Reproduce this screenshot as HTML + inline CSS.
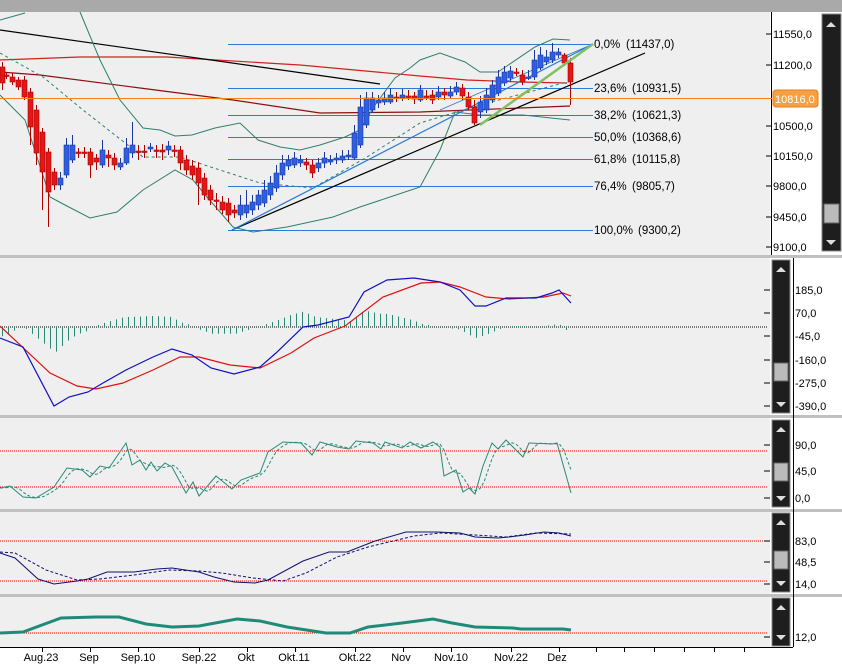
<!DOCTYPE html>
<html><head><meta charset="utf-8">
<style>
html,body{margin:0;padding:0;background:#fff;}
svg{display:block;font-family:"Liberation Sans",Arial,sans-serif;}
</style></head>
<body>
<svg id="s" width="842" height="664" viewBox="0 0 842 664" xmlns="http://www.w3.org/2000/svg">
<rect width="842" height="664" fill="#fff"/>
<rect x="0" y="0" width="842" height="12" fill="#a9a9a9"/>
<rect x="0" y="12" width="770" height="243" fill="#efefef"/>
<rect x="0" y="255" width="842" height="3" fill="#c0c0c0"/>
<rect x="0" y="258" width="770" height="157" fill="#efefef"/>
<rect x="0" y="415" width="842" height="3" fill="#c0c0c0"/>
<rect x="0" y="418" width="770" height="91" fill="#efefef"/>
<rect x="0" y="509" width="842" height="3" fill="#c0c0c0"/>
<rect x="0" y="512" width="770" height="82" fill="#efefef"/>
<rect x="0" y="594" width="842" height="3" fill="#c0c0c0"/>
<rect x="0" y="597" width="770" height="50" fill="#efefef"/>
<g id="g"></g>
<line x1="771.5" y1="12" x2="771.5" y2="255" stroke="#000"/>
<g font-size="11" fill="#000">
<text x="773" y="38">11550,0</text><text x="773" y="69">11200,0</text>
<text x="773" y="130">10500,0</text><text x="773" y="160">10150,0</text>
<text x="773" y="190">9800,0</text><text x="773" y="221">9450,0</text><text x="773" y="251">9100,0</text>
</g>
<g stroke="#000"><line x1="766" y1="34" x2="771" y2="34"/><line x1="766" y1="65" x2="771" y2="65"/><line x1="766" y1="126" x2="771" y2="126"/><line x1="766" y1="156" x2="771" y2="156"/><line x1="766" y1="186" x2="771" y2="186"/><line x1="766" y1="217" x2="771" y2="217"/><line x1="766" y1="247" x2="771" y2="247"/></g>
<line x1="0" y1="98.5" x2="772" y2="98.5" stroke="#f08020"/>
<rect x="773" y="90" width="45" height="17" rx="3" fill="#f8a040" stroke="#e08020"/>
<text x="775" y="103" font-size="11" fill="#fff">10816,0</text>
<g font-size="11.5" fill="#000">
<text x="594" y="48">0,0%<tspan x="626">(11437,0)</tspan></text>
<text x="594" y="92">23,6%<tspan x="632">(10931,5)</tspan></text>
<text x="594" y="119">38,2%<tspan x="632">(10621,3)</tspan></text>
<text x="594" y="141">50,0%<tspan x="632">(10368,6)</tspan></text>
<text x="594" y="163">61,8%<tspan x="632">(10115,8)</tspan></text>
<text x="594" y="190">76,4%<tspan x="632">(9805,7)</tspan></text>
<text x="594" y="234">100,0%<tspan x="638">(9300,2)</tspan></text>
</g>
<rect x="822" y="14" width="19" height="237" fill="#1e1e1e" stroke="#888"/>
<polygon points="826,27 836,27 831,22" fill="#ddd"/><polygon points="826,240 836,240 831,245" fill="#ddd"/>
<rect x="824" y="204" width="15" height="19" fill="#bbb" stroke="#666"/>
<g id="sb"></g>
<line x1="793.5" y1="258" x2="793.5" y2="647" stroke="#000"/>
<g font-size="11" fill="#000">
<text x="795" y="294">185,0</text><text x="795" y="317">70,0</text><text x="795" y="340">-45,0</text>
<text x="795" y="364">-160,0</text><text x="795" y="387">-275,0</text><text x="795" y="410">-390,0</text>
<text x="795" y="449">90,0</text><text x="795" y="475">45,0</text><text x="795" y="502">0,0</text>
<text x="795" y="545">83,0</text><text x="795" y="566">48,5</text><text x="795" y="588">14,0</text>
<text x="795" y="641">12,0</text>
</g>
<g stroke="#000">
<line x1="764" y1="290" x2="770" y2="290"/><line x1="764" y1="313" x2="770" y2="313"/><line x1="764" y1="336" x2="770" y2="336"/><line x1="764" y1="360" x2="770" y2="360"/><line x1="764" y1="383" x2="770" y2="383"/><line x1="764" y1="406" x2="770" y2="406"/>
<line x1="764" y1="445" x2="770" y2="445"/><line x1="764" y1="471" x2="770" y2="471"/><line x1="764" y1="498" x2="770" y2="498"/>
<line x1="764" y1="541" x2="770" y2="541"/><line x1="764" y1="562" x2="770" y2="562"/><line x1="764" y1="584" x2="770" y2="584"/>
<line x1="764" y1="637" x2="770" y2="637"/>
</g>
<line x1="0" y1="647.5" x2="793" y2="647.5" stroke="#000"/>
<g font-size="11" fill="#000" text-anchor="middle">
<text x="41" y="661">Aug.23</text><text x="89" y="661">Sep</text><text x="138" y="661">Sep.10</text>
<text x="199" y="661">Sep.22</text><text x="246" y="661">Okt</text><text x="294" y="661">Okt.11</text>
<text x="355" y="661">Okt.22</text><text x="401" y="661">Nov</text><text x="451" y="661">Nov.10</text>
<text x="511" y="661">Nov.22</text><text x="557" y="661">Dez</text>
</g>
</svg>
<script>
var NS="http://www.w3.org/2000/svg",g=document.getElementById('g');
function el(t,a,p){var e=document.createElementNS(NS,t);for(var k in a)e.setAttribute(k,a[k]);(p||g).appendChild(e);return e;}
function pl(pts,st,w,dash){var a={points:pts.map(function(p){return p.join(',')}).join(' '),fill:'none',stroke:st,'stroke-width':w||1};if(dash)a['stroke-dasharray']=dash;el('polyline',a);}
function interp(pts,x){for(var i=0;i<pts.length-1;i++){if(x>=pts[i][0]&&x<=pts[i+1][0]){var t=(x-pts[i][0])/(pts[i+1][0]-pts[i][0]||1);return pts[i][1]+t*(pts[i+1][1]-pts[i][1]);}}return pts[pts.length-1][1];}
[[327,'#000'],[451,'#ff0000'],[487,'#ff0000'],[541,'#ff0000'],[581,'#ff0000'],[633,'#ff0000']].forEach(function(d){el('line',{x1:0,y1:d[0],x2:768,y2:d[0],stroke:d[1],'stroke-dasharray':'1,1','shape-rendering':'crispEdges'});});
[44,88,115,137,159,186,230].forEach(function(y){el('line',{x1:228,y1:y+.5,x2:593,y2:y+.5,stroke:'#2a7ad8'});});
pl([[0,60],[80,57],[167,57],[300,65],[420,76],[467,80],[520,82],[567,83]],'#d02020',1.2);
pl([[0,72],[40,75],[140,88],[233,100],[320,113],[420,112],[570,106]],'#8b1010',1.2);
pl([[0,30],[380,84]],'#000',1.2);
pl([[0,53],[43,77],[83,110],[143,157],[180,157],[260,183],[313,188],[367,157],[420,123],[480,105],[567,82]],'#2f7f6f',1,'3,3');
pl([[0,20],[25,13]],'#2f7f6f',1);
pl([[80,12],[100,60],[120,100],[143,128],[160,130],[175,136],[192,135],[215,128],[240,123],[258,140],[280,147],[300,150],[320,145],[345,137],[360,130],[375,105],[395,78],[410,68],[420,60],[440,53],[465,62],[480,72],[498,72],[535,47],[553,39],[570,40]],'#2f7f6f',1);
pl([[0,95],[25,120],[50,197],[65,205],[90,218],[117,212],[143,190],[175,170],[193,180],[207,197],[233,227],[253,232],[287,227],[333,217],[360,207],[390,197],[420,187],[440,150],[455,112],[480,115],[523,115],[570,120]],'#2f7f6f',1);
pl([[232,230],[645,53]],'#000',1.2);
pl([[232,230],[593,44]],'#2a7ad8',1.2);
pl([[440,110],[593,44]],'#2a7ad8',0.8);
var C=[[2,67,83,62,90],[6,75,76,72,79],[12,77,82,73,85],[18,80,87,77,90],[24,80,97,76,100],[30,92,127,88,145],[36,110,153,105,165],[42,132,172,128,210],[48,152,192,148,227],[54,172,185,168,190],[60,185,178,172,190],[66,175,145,138,178],[72,160,145,135,163],[78,152,153,148,158],[84,152,153,147,158],[90,152,165,148,178],[96,158,162,154,170],[102,165,150,140,168],[108,155,158,150,167],[114,158,165,153,170],[120,167,163,158,170],[126,163,148,138,165],[132,153,145,122,158],[138,151,152,145,160],[144,151,152,145,158],[150,149,147,143,152],[156,150,151,145,158],[162,150,152,144,160],[168,150,146,141,155],[174,150,151,145,157],[180,150,163,146,170],[186,160,170,155,175],[192,166,175,160,180],[198,168,183,162,205],[204,178,195,173,200],[210,190,200,185,205],[216,200,201,193,210],[222,202,210,196,214],[228,203,215,198,222],[234,210,213,205,218],[240,215,205,195,220],[246,213,205,190,218],[252,210,202,195,215],[258,205,195,190,210],[264,203,190,180,207],[270,195,183,176,200],[276,188,173,165,192],[282,175,163,155,180],[288,166,160,155,170],[294,165,158,152,168],[300,163,160,155,167],[306,162,165,158,170],[312,165,173,160,178],[318,168,163,158,172],[324,163,158,152,168],[330,162,160,155,165],[336,160,158,153,164],[342,160,156,150,163],[348,157,155,150,160],[354,158,133,125,160],[360,145,107,95,148],[366,125,98,92,128],[372,110,98,92,113],[378,103,100,95,108],[384,102,98,92,105],[390,102,95,88,104],[396,97,98,92,102],[402,98,95,89,101],[408,96,97,90,100],[414,96,99,92,104],[420,100,90,85,102],[426,96,97,90,100],[432,95,100,90,104],[438,97,92,86,100],[444,92,95,88,100],[450,96,92,86,99],[456,92,87,82,95],[462,88,96,84,100],[468,97,107,92,110],[474,107,123,100,125],[480,112,102,96,118],[486,110,95,88,113],[492,100,85,80,103],[498,93,77,70,96],[504,83,72,66,86],[510,78,71,66,82],[516,72,73,68,76],[522,75,82,70,85],[528,78,77,70,80],[534,77,60,50,80],[540,68,55,47,70],[546,62,57,50,65],[552,60,52,43,63],[558,55,52,48,58],[564,55,63,53,66],[570,63,82,58,105]];
C.forEach(function(c){var up=c[2]<c[1],col=up?'#2f5fe0':'#e01818',bc=up?'#1838a0':'#b00000';
el('line',{x1:c[0]+.5,y1:c[3],x2:c[0]+.5,y2:c[4],stroke:bc});
var t=Math.min(c[1],c[2]),h=Math.max(1.5,Math.abs(c[2]-c[1]));
el('rect',{x:c[0]-2,y:t,width:5,height:h,fill:col,stroke:bc,'stroke-width':0.6});});
pl([[480,125],[593,44]],'#80c060',2.5);
var B=[[0,338],[23,347],[54,406],[69,397],[88,392],[103,383],[126,370],[153,357],[172,349],[192,355],[211,368],[234,374],[260,367],[276,353],[303,327],[318,325],[349,317],[364,292],[387,280],[414,278],[440,282],[460,290],[475,306],[486,306],[506,298],[536,298],[552,293],[559,290],[571,303]];
var R=[[0,326],[50,373],[77,386],[96,389],[123,383],[153,370],[180,357],[199,357],[230,365],[260,368],[291,353],[314,338],[345,326],[383,297],[421,283],[440,282],[460,287],[486,297],[509,299],[544,297],[563,293],[571,296]];
for(var x=2;x<=571;x+=6){var h=(interp(B,x)-interp(R,x))*0.85;if(Math.abs(h)<1)h=h<0?-1:1;el('line',{x1:x+.5,y1:327,x2:x+.5,y2:327+h,stroke:'#2a8a78'});}
pl(R,'#e01010',1.2);pl(B,'#1010c0',1.2);
var S=[[0,488],[10,486],[23,497],[36,498],[54,487],[67,468],[82,470],[90,477],[100,466],[109,468],[126,443],[132,465],[140,460],[146,470],[151,462],[157,471],[165,463],[172,467],[186,493],[193,482],[199,496],[216,476],[232,489],[241,480],[260,473],[268,452],[283,442],[301,443],[312,455],[320,442],[337,447],[349,449],[356,441],[373,443],[381,449],[385,442],[402,448],[410,442],[421,448],[433,442],[440,447],[444,476],[456,470],[463,492],[469,488],[475,494],[483,466],[492,443],[498,449],[506,440],[523,457],[529,443],[552,444],[557,443],[571,493]];
var SD=[];for(var x=0;x<=571;x+=4){var v=(interp(S,Math.max(0,x-2))+interp(S,Math.max(0,x-6))+interp(S,Math.max(0,x-10)))/3;SD.push([x,v.toFixed(1)]);}SD[SD.length-1]=[571,470];
pl(SD,'#2a8a78',1,'3,2');pl(S,'#2a8a78',1);
pl([[0,552],[15,553],[46,570],[77,580],[100,579],[134,575],[169,570],[199,571],[222,573],[253,578],[283,581],[306,573],[337,557],[368,547],[414,536],[440,533],[475,535],[506,537],[536,533],[571,534]],'#101070',1,'3,2');
pl([[0,553],[15,558],[38,579],[54,584],[77,581],[88,579],[107,572],[134,572],[157,569],[172,568],[199,572],[214,577],[234,582],[255,583],[268,580],[303,561],[329,552],[347,552],[375,541],[406,532],[437,532],[460,533],[475,537],[498,538],[509,537],[525,535],[544,532],[559,533],[571,536]],'#101070',1);
pl([[0,633],[23,632],[61,618],[96,617],[119,617],[146,624],[172,627],[199,626],[237,619],[260,621],[287,627],[326,633],[350,633],[368,627],[402,623],[433,619],[452,623],[475,627],[513,628],[521,629],[563,629],[571,630]],'#1f8a78',3);
[42,90,138,199,247,295,355,403,451,511,559,596,624,654,684,714,744].forEach(function(x){el('line',{x1:x+.5,y1:647,x2:x+.5,y2:652,stroke:'#000'});});
var sb=document.getElementById('sb');
[[259,414,372],[419,508,472],[512,593,560],[597,647,null]].forEach(function(p){
el('rect',{x:772,y:p[0]+1,width:18,height:p[1]-p[0]-2,fill:'#1e1e1e',stroke:'#888'},sb);
el('polygon',{points:'776,'+(p[0]+13)+' 786,'+(p[0]+13)+' 781,'+(p[0]+8),fill:'#ddd'},sb);
el('polygon',{points:'776,'+(p[1]-12)+' 786,'+(p[1]-12)+' 781,'+(p[1]-7),fill:'#ddd'},sb);
if(p[2])el('rect',{x:774,y:p[2]-9,width:14,height:18,fill:'#bbb',stroke:'#666'},sb);});
</script>
</body></html>
